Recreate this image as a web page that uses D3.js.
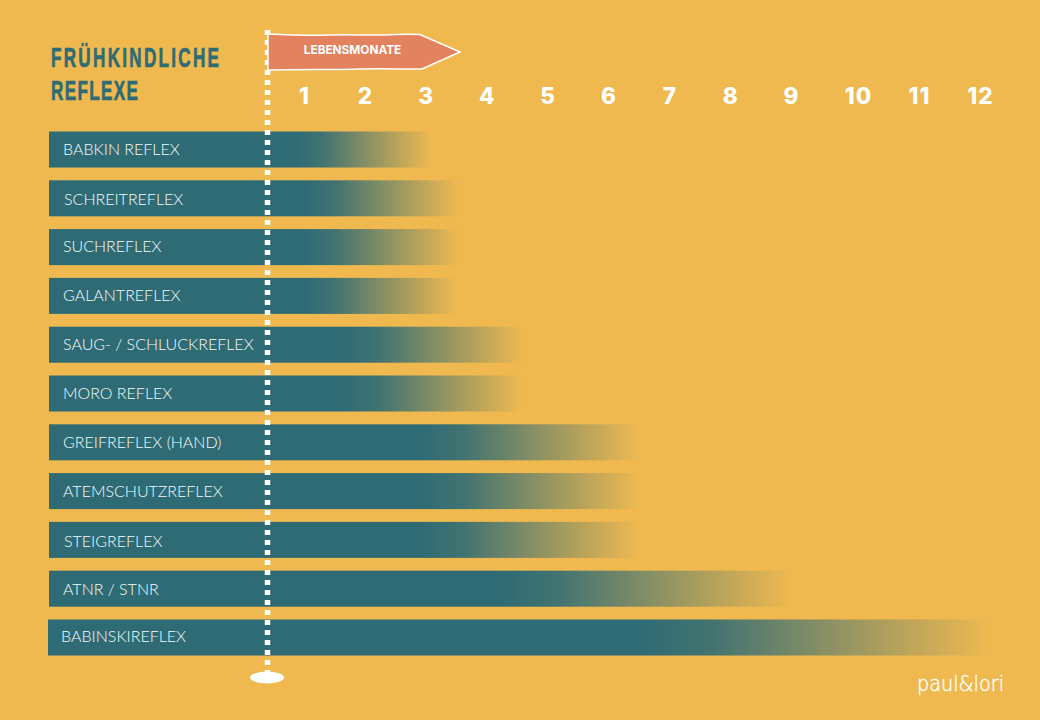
<!DOCTYPE html>
<html>
<head>
<meta charset="utf-8">
<script src="https://cdn.jsdelivr.net/npm/d3@7"></script>
<style>
  html, body { margin: 0; padding: 0; background: #EFB950; }
  svg { display: block; }
</style>
</head>
<body>
<svg id="chart" width="1040" height="720"></svg>
<script>
// reflexes, top to bottom
const reflexes = ['BABKIN REFLEX', 'SCHREITREFLEX', 'SUCHREFLEX', 'GALANTREFLEX', 'SAUG- / SCHLUCKREFLEX',
  'MORO REFLEX', 'GREIFREFLEX (HAND)', 'ATEMSCHUTZREFLEX', 'STEIGREFLEX', 'ATNR / STNR', 'BABINSKIREFLEX'];
// month where the reflex has faded out completely
const endMonths = [3.1, 3.54, 3.54, 3.5, 4.6, 4.58, 6.5, 6.5, 6.5, 9.02, 12.18];
// month where the fade starts
const fadeMonths = [0.85, 1.0, 1.0, 1.0, 1.65, 1.65, 2.9, 2.9, 2.9, 4.2, 6.5];
const months = [1, 2, 3, 4, 5, 6, 7, 8, 9, 10, 11, 12];

const bg = '#EFB950', teal = '#2E6B75', white = '#FFFFFF';
const barLeft = 49;
const fadeMix = d3.interpolateRgb(teal, bg);

// the labels were placed by hand in the original, so a few sit off the common spot
const labelNudge = {
  'SCHREITREFLEX': [1, 1.5],
  'SUCHREFLEX': [0, -0.5],
  'GALANTREFLEX': [0, -0.5],
  'STEIGREFLEX': [1, 1.5],
  'ATNR / STNR': [0, 1],
  'BABINSKIREFLEX': [-2, -1]
};

const svg = d3.select('#chart');
const defs = svg.append('defs');

// the month axis is not quite even in the original, 10-12 sit a bit further right
const x = d3.scaleLinear().domain([1, 9, 10, 12]).range([304, 791, 858, 980]);
const y = d3.scaleBand().domain(reflexes).range([131.5, 655.5]).paddingInner(0.262);

svg.append('rect').attr('width', 1040).attr('height', 720).attr('fill', bg);

// bars
reflexes.forEach((name, i) => {
  const grad = defs.append('linearGradient')
      .attr('id', 'fade' + i)
      .attr('gradientUnits', 'userSpaceOnUse')
      .attr('x1', x(fadeMonths[i]))
      .attr('x2', x(endMonths[i]));
  // slow start so the fade has no hard kink
  grad.append('stop').attr('offset', 0).attr('stop-color', teal);
  grad.append('stop').attr('offset', 0.2).attr('stop-color', fadeMix(0.1));
  grad.append('stop').attr('offset', 1).attr('stop-color', bg);

  const left = i === reflexes.length - 1 ? barLeft - 1 : barLeft;
  svg.append('rect')
      .attr('class', 'bar')
      .attr('x', left)
      .attr('y', y(name))
      .attr('width', x(endMonths[i]) - left)
      .attr('height', y.bandwidth())
      .attr('fill', 'url(#fade' + i + ')');

  const nudge = labelNudge[name] || [0, 0];
  svg.append('text')
      .attr('x', barLeft + 14 + nudge[0])
      .attr('y', y(name) + y.bandwidth() / 2 + nudge[1])
      .attr('dy', '0.35em')
      .attr('fill', '#F4FBFA')
      .style('font', '300 16px Lato')
      .text(name);
});

// month ticks
const axis = svg.append('g')
    .attr('transform', 'translate(0,103.5)')
    .call(d3.axisTop(x).tickValues(months).tickSize(0).tickPadding(0).tickFormat(d3.format('d')));
axis.select('.domain').remove();
axis.selectAll('text')
    .attr('fill', white)
    .style('font', '800 22.5px Inter')
    .style('letter-spacing', '1px');

// dotted start line
svg.append('line')
    .attr('x1', 267.5).attr('x2', 267.5)
    .attr('y1', 30).attr('y2', 676)
    .attr('stroke', white)
    .attr('stroke-width', 5.5)
    .attr('stroke-dasharray', '5 5');
svg.append('ellipse')
    .attr('cx', 267).attr('cy', 677.5)
    .attr('rx', 17).attr('ry', 6)
    .attr('fill', white);

// flag
svg.append('path')
    .attr('d', 'M268,34 C290,35 305,36 330,35 C355,34 370,36 395,34.5 C405,34 412,34 420,34.5 L460,52 L422,69 C400,69.5 385,68 360,69 C335,70 300,69 268,70 Z')
    .attr('fill', '#E2825F')
    .attr('stroke', white)
    .attr('stroke-width', 1.5);
svg.append('text')
    .attr('x', 352.5).attr('y', 54)
    .attr('text-anchor', 'middle')
    .attr('fill', white)
    .style('font', '700 11.8px Inter')
    .text('LEBENSMONATE');

// title, a plain sans squeezed hard since the brush lettering is not available
const titleLines = ['FRÜHKINDLICHE', 'REFLEXE'];
const titleWidths = [168, 87];
const squeeze = 0.6;
titleLines.forEach((line, i) => {
  svg.append('text')
      .attr('transform', 'translate(51,' + (67 + i * 33) + ') scale(' + squeeze + ',1)')
      .attr('textLength', titleWidths[i] / squeeze)
      .attr('lengthAdjust', 'spacing')
      .attr('fill', teal)
      .attr('stroke', teal)
      .attr('stroke-width', 0.7)
      .style('font', '700 28.5px "Liberation Sans"')
      .text(line);
});

// logo
svg.append('text')
    .attr('x', 917).attr('y', 691)
    .attr('textLength', 87)
    .attr('lengthAdjust', 'spacingAndGlyphs')
    .attr('fill', white)
    .attr('stroke', white)
    .attr('stroke-width', 0.4)
    .style('font', '200 22px "DejaVu Sans"')
    .text('paul&lori');
</script>
</body>
</html>
